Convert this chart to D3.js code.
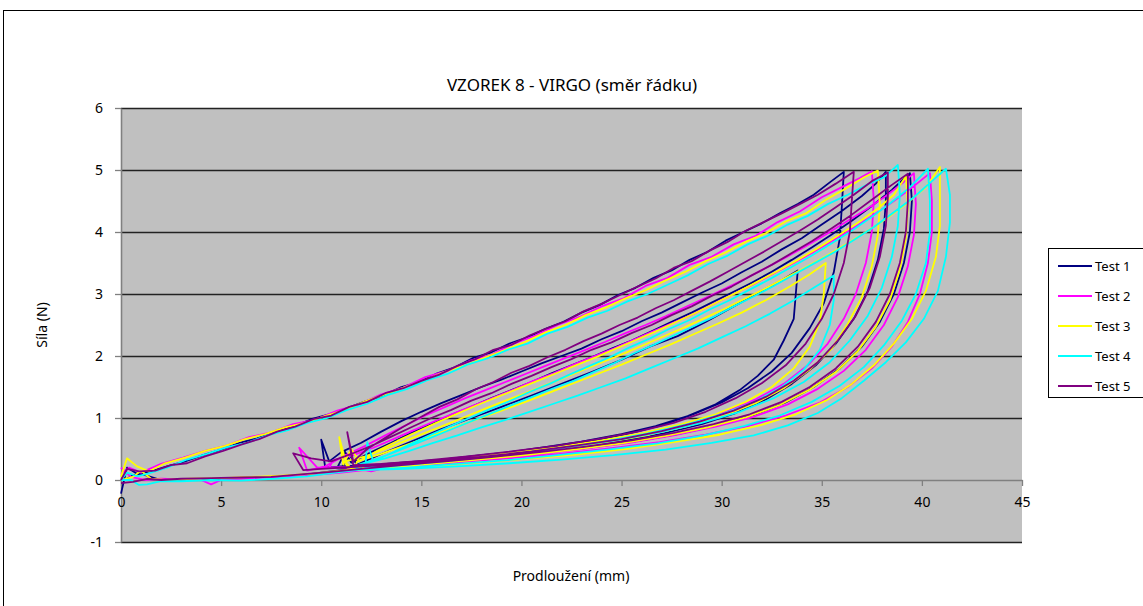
<!DOCTYPE html>
<html><head><meta charset="utf-8">
<script src="https://cdn.jsdelivr.net/npm/d3@7"></script>
<style>
html,body{margin:0;padding:0;background:#fff;}
svg{display:block;font-family:"Noto Sans","Open Sans",sans-serif;}
</style></head>
<body><svg id="c" width="1143" height="606"></svg>
<script>
const chartTitle = "VZOREK 8 - VIRGO (směr řádku)";
const xTitle = "Prodloužení (mm)";
const yTitle = "Síla (N)";
const seriesNames = ["Test 1","Test 2","Test 3","Test 4","Test 5"];
const seriesColors = ["#000080","#FF00FF","#FFFF00","#00FFFF","#800080"];
const xTicks = [0,5,10,15,20,25,30,35,40,45];
const yTicks = [-1,0,1,2,3,4,5,6];

const test1 = [[0,-0.22],[0.3,0.2],[0.8,0.1],[1.5,0.14],[2.3,0.22],[3.2,0.3],[4.1,0.4],[5,0.49],[5.9,0.6],[6.8,0.67],[7.7,0.78],[8.6,0.86],[9.5,0.98],[10.4,1.06],[11.3,1.16],[12.2,1.27],[13.1,1.36],[14,1.5],[14.9,1.58],[15.8,1.72],[16.7,1.82],[17.6,1.97],[18.5,2.06],[19.4,2.2],[20.3,2.3],[21.2,2.44],[22.1,2.55],[23,2.7],[23.9,2.82],[24.8,2.98],[25.7,3.1],[26.6,3.26],[27.5,3.38],[28.4,3.55],[29.3,3.68],[30.2,3.86],[31.1,4.0],[32,4.14],[32.9,4.3],[33.8,4.45],[34.6,4.6],[35.4,4.8],[36.1,4.97],
[36.0,4.4],[35.9,3.9],[35.6,3.35],[35.1,2.85],[34.4,2.45],[33.5,2.05],[32.5,1.75],[31.3,1.48],[30,1.25],[28.5,1.05],[27,0.88],[25.5,0.76],[24,0.66],[22,0.55],[20,0.47],[18,0.4],[16,0.33],[14,0.28],[12.5,0.24],[11,0.22],[10.2,0.2],
[10.0,0.65],[10.4,0.3],[11,0.45],[12,0.6],[13,0.78],[14,0.95],[15,1.1],[16,1.24],[17,1.37],[18,1.5],[19,1.62],[20,1.75],[21,1.88],[22,2.0],[23,2.12],[24,2.27],[25,2.4],[26,2.56],[27,2.7],[28,2.86],[29,3.02],[30,3.17],[31,3.35],[32,3.52],[33,3.72],[34,3.9],[35,4.12],[36,4.34],[37,4.58],[37.7,4.78],[38.2,4.97],
[38.2,4.5],[38.1,4.05],[37.8,3.55],[37.3,3.05],[36.6,2.6],[35.7,2.2],[34.7,1.85],[33.5,1.55],[32.2,1.3],[30.7,1.08],[29,0.9],[27.2,0.76],[25.2,0.64],[23,0.54],[20.8,0.45],[18.5,0.38],[16.2,0.31],[14,0.26],[12,0.22],[10.8,0.2],
[11.2,0.45],[11.5,0.28],[12.5,0.45],[13.5,0.6],[14.5,0.76],[15.5,0.9],[16.5,1.05],[17.5,1.18],[18.5,1.32],[19.5,1.45],[20.5,1.58],[21.5,1.72],[22.5,1.85],[23.5,1.98],[24.5,2.12],[25.5,2.25],[26.5,2.4],[27.5,2.55],[28.5,2.7],[29.5,2.86],[30.5,3.02],[31.5,3.18],[32.5,3.36],[33.5,3.55],[34.5,3.75],[35.5,3.96],[36.5,4.18],[37.5,4.42],[38.5,4.68],[39.4,4.95],
[39.5,4.5],[39.4,4.0],[39.1,3.5],[38.6,3.0],[37.9,2.55],[37,2.15],[35.9,1.8],[34.6,1.5],[33.2,1.25],[31.6,1.05],[29.8,0.88],[27.8,0.74],[25.6,0.62],[23.3,0.52],[21,0.44],[18.6,0.36],[16.3,0.3],[14,0.24],[12,0.2],[11,0.19],
[11.4,0.4],[11.8,0.25],[13,0.42],[14.5,0.62],[16,0.82],[17.5,1.0],[19,1.18],[20.5,1.36],[22,1.55],[23.5,1.74],[25,1.94],[26.4,2.15],[27.8,2.32],[29.2,2.55],[30.6,2.8],[32,3.05],[33,3.22],[33.8,3.38],
[33.6,2.6],[33.1,2.25],[32.6,1.94],[31.8,1.68],[30.9,1.45],[29.7,1.22],[28.3,1.03],[26.7,0.87],[25,0.74],[23,0.62],[21,0.52],[19,0.43],[17,0.35],[15,0.28],[13,0.22],[11,0.16],[9.5,0.1],[8,0.06],[6.5,0.04],[5,0.02],[3.5,0.01],[2,0.0],[1,0.1],[0.6,0.08],[0.3,0.02]];

const test2 = [[0,0.1],[0.4,0.2],[1,0.12],[2,0.26],[3.1,0.36],[4.2,0.47],[5.3,0.56],[6.4,0.69],[7.5,0.77],[8.6,0.9],[9.7,0.97],[10.8,1.12],[11.9,1.22],[13,1.38],[14.1,1.49],[15.2,1.66],[16.3,1.76],[17.4,1.92],[18.5,2.02],[19.6,2.2],[20.7,2.33],[21.8,2.5],[22.9,2.63],[24,2.8],[25.1,2.93],[26.2,3.13],[27.3,3.26],[28.4,3.47],[29.5,3.6],[30.6,3.8],[31.7,3.94],[32.8,4.16],[33.9,4.33],[35,4.56],[36.1,4.74],[36.9,4.87],[37.5,4.98],
[37.6,4.5],[37.5,4.0],[37.2,3.5],[36.7,3.0],[36.1,2.6],[35.3,2.2],[34.3,1.85],[33.1,1.55],[31.7,1.3],[30.2,1.1],[28.5,0.92],[26.6,0.77],[24.6,0.65],[22.4,0.54],[20.2,0.45],[18,0.37],[15.8,0.3],[13.6,0.25],[11.5,0.21],[9.8,0.2],
[8.9,0.52],[9.3,0.15],[10.2,0.22],[11.2,0.4],[12.2,0.55],[13.2,0.72],[14.2,0.88],[15.2,1.04],[16.2,1.18],[17.2,1.32],[18.2,1.45],[19.2,1.58],[20.2,1.71],[21.2,1.84],[22.2,1.97],[23.2,2.1],[24.2,2.23],[25.2,2.37],[26.2,2.5],[27.2,2.64],[28.2,2.79],[29.2,2.94],[30.2,3.09],[31.2,3.25],[32.2,3.42],[33.2,3.59],[34.2,3.77],[35.2,3.96],[36.2,4.16],[37.2,4.36],[38.2,4.58],[39,4.78],[39.6,4.95],
[39.7,4.45],[39.6,3.95],[39.3,3.45],[38.8,2.95],[38.1,2.5],[37.2,2.1],[36.1,1.76],[34.8,1.47],[33.3,1.22],[31.6,1.02],[29.7,0.86],[27.6,0.72],[25.4,0.6],[23,0.5],[20.6,0.41],[18.2,0.34],[15.8,0.28],[13.5,0.22],[12.5,0.14],[11.5,0.2],[10.4,0.2],
[10.6,0.32],[11.6,0.4],[12.6,0.52],[13.6,0.66],[14.6,0.8],[15.6,0.94],[16.6,1.07],[17.6,1.2],[18.6,1.33],[19.6,1.46],[20.6,1.6],[21.6,1.72],[22.6,1.86],[23.6,1.99],[24.6,2.12],[25.6,2.26],[26.6,2.4],[27.6,2.54],[28.6,2.68],[29.6,2.84],[30.6,3.0],[31.6,3.16],[32.6,3.33],[33.6,3.5],[34.6,3.68],[35.6,3.87],[36.6,4.07],[37.6,4.28],[38.6,4.5],[39.6,4.74],[40.4,4.95],
[40.5,4.5],[40.5,4.0],[40.3,3.5],[39.9,3.0],[39.3,2.55],[38.5,2.15],[37.5,1.8],[36.3,1.5],[34.9,1.25],[33.2,1.04],[31.3,0.87],[29.2,0.73],[26.9,0.61],[24.4,0.51],[21.9,0.42],[19.4,0.35],[16.9,0.28],[14.5,0.2],[12.5,0.17],[11,0.12],[9.5,0.08],[8,0.05],[6.5,0.03],[5,0.0],[4.5,-0.07],[4,0.0],[3,0.01],[2,0.02],[1.2,0.0],[0.5,0.05],[0,0.2]];

const test3 = [[0,0.05],[0.3,0.35],[0.8,0.22],[1.4,0.14],[2.2,0.27],[3.2,0.36],[4.2,0.47],[5.2,0.55],[6.2,0.66],[7.2,0.74],[8.2,0.85],[9.2,0.92],[10.2,1.03],[11.2,1.13],[12.2,1.27],[13.2,1.38],[14.2,1.5],[15.2,1.61],[16.2,1.75],[17.2,1.85],[18.2,1.98],[19.2,2.1],[20.2,2.23],[21.2,2.38],[22.2,2.5],[23.2,2.66],[24.2,2.78],[25.2,2.93],[26.2,3.06],[27.2,3.22],[28.2,3.36],[29.2,3.53],[30.2,3.67],[31.2,3.84],[32.2,3.98],[33.2,4.17],[34.2,4.3],[35.2,4.52],[36.2,4.7],[37.1,4.88],[37.8,4.99],
[37.9,4.45],[37.8,3.95],[37.5,3.45],[37,2.95],[36.3,2.52],[35.5,2.12],[34.4,1.78],[33.1,1.48],[31.7,1.24],[30.1,1.04],[28.3,0.87],[26.4,0.73],[24.3,0.61],[22.1,0.5],[19.8,0.41],[17.5,0.33],[15.2,0.27],[13,0.22],[11.3,0.2],
[10.9,0.69],[11.1,0.25],[11.5,0.5],[11.9,0.3],[12.8,0.47],[13.8,0.63],[14.8,0.78],[15.8,0.93],[16.8,1.07],[17.8,1.21],[18.8,1.34],[19.8,1.47],[20.8,1.6],[21.8,1.73],[22.8,1.86],[23.8,1.99],[24.8,2.13],[25.8,2.27],[26.8,2.41],[27.8,2.56],[28.8,2.71],[29.8,2.87],[30.8,3.03],[31.8,3.2],[32.8,3.37],[33.8,3.55],[34.8,3.74],[35.8,3.94],[36.8,4.15],[37.8,4.38],[38.6,4.6],[39.2,4.9],
[39.3,4.4],[39.2,3.9],[38.9,3.4],[38.4,2.9],[37.7,2.47],[36.8,2.08],[35.7,1.74],[34.4,1.46],[32.9,1.21],[31.2,1.01],[29.3,0.85],[27.2,0.71],[25,0.59],[22.6,0.49],[20.2,0.4],[17.8,0.33],[15.4,0.26],[13.2,0.2],[11.5,0.18],
[11.2,0.3],[12.2,0.38],[13.2,0.5],[14.2,0.63],[15.2,0.76],[16.2,0.89],[17.2,1.02],[18.2,1.15],[19.2,1.28],[20.2,1.4],[21.2,1.53],[22.2,1.66],[23.2,1.79],[24.2,1.92],[25.2,2.05],[26.2,2.19],[27.2,2.33],[28.2,2.47],[29.2,2.62],[30.2,2.77],[31.2,2.93],[32.2,3.09],[33.2,3.26],[34.2,3.43],[35.2,3.61],[36.2,3.8],[37.2,4.0],[38.2,4.21],[39.2,4.45],[40.2,4.72],[40.9,5.05],
[40.9,4.6],[40.9,4.1],[40.7,3.6],[40.2,3.05],[39.5,2.6],[38.6,2.2],[37.6,1.85],[36.5,1.55],[35.2,1.28],[33.7,1.06],[31.9,0.88],[29.9,0.73],[27.6,0.61],[25.2,0.5],[22.7,0.41],[20.2,0.34],[17.8,0.28],[15.4,0.22],[13.2,0.18],[11.6,0.16],
[11.8,0.3],[13,0.42],[14.2,0.56],[15.4,0.7],[16.6,0.84],[17.8,0.98],[19,1.12],[20.2,1.26],[21.4,1.41],[22.6,1.56],[23.8,1.71],[25,1.86],[26.2,2.02],[27.4,2.18],[28.6,2.35],[29.8,2.52],[31,2.7],[32.2,2.9],[33.4,3.12],[34.4,3.32],[35.2,3.5],
[35.1,3.0],[34.9,2.55],[34.4,2.15],[33.6,1.8],[32.5,1.5],[31.2,1.26],[29.7,1.06],[28,0.9],[26.1,0.76],[24,0.64],[21.8,0.53],[19.5,0.44],[17.2,0.36],[15,0.29],[13,0.23],[11.2,0.16],[9.5,0.1],[8,0.07],[6.5,0.05],[5,0.03],[3.5,0.02],[2.2,0.0],[1.5,0.02],[1.0,0.15],[0.6,0.05],[0,0.0]];

const test4 = [[0,0.0],[0.3,0.12],[0.8,0.06],[1.3,0.1],[2.3,0.2],[3.3,0.33],[4.3,0.42],[5.3,0.53],[6.3,0.6],[7.3,0.72],[8.3,0.8],[9.3,0.92],[10.3,1.0],[11.3,1.13],[12.3,1.23],[13.3,1.37],[14.3,1.47],[15.3,1.61],[16.3,1.71],[17.3,1.86],[18.3,1.96],[19.3,2.1],[20.3,2.2],[21.3,2.36],[22.3,2.47],[23.3,2.62],[24.3,2.73],[25.3,2.88],[26.3,3.0],[27.3,3.15],[28.3,3.3],[29.3,3.48],[30.3,3.62],[31.3,3.8],[32.3,3.94],[33.3,4.12],[34.3,4.26],[35.3,4.45],[36.3,4.6],[37.3,4.77],[38.1,4.88],[38.8,5.08],
[38.9,4.6],[38.8,4.1],[38.5,3.6],[38,3.1],[37.3,2.65],[36.4,2.25],[35.4,1.9],[34.1,1.58],[32.6,1.32],[30.9,1.1],[29,0.92],[26.9,0.77],[24.7,0.64],[22.3,0.53],[19.9,0.43],[17.5,0.35],[15.1,0.28],[13,0.23],[12.2,0.2],
[12.3,0.61],[12.6,0.3],[13.4,0.42],[14.4,0.57],[15.4,0.72],[16.4,0.86],[17.4,1.0],[18.4,1.14],[19.4,1.27],[20.4,1.42],[21.4,1.55],[22.4,1.7],[23.4,1.84],[24.4,1.98],[25.4,2.14],[26.4,2.28],[27.4,2.44],[28.4,2.58],[29.4,2.75],[30.4,2.9],[31.4,3.07],[32.4,3.24],[33.4,3.42],[34.4,3.6],[35.4,3.8],[36.4,4.0],[37.4,4.22],[38.4,4.46],[39.4,4.72],[40.3,5.02],
[40.4,4.5],[40.4,4.0],[40.2,3.5],[39.7,3.0],[39.0,2.57],[38.1,2.17],[37.1,1.82],[35.9,1.52],[34.5,1.26],[32.9,1.04],[31.1,0.87],[29.1,0.72],[26.8,0.59],[24.3,0.49],[21.8,0.4],[19.3,0.32],[16.8,0.26],[14.3,0.2],[12,0.16],
[11.6,0.22],[12.6,0.32],[13.6,0.44],[14.6,0.57],[15.6,0.7],[16.6,0.83],[17.6,0.96],[18.6,1.09],[19.6,1.22],[20.6,1.35],[21.6,1.48],[22.6,1.6],[23.6,1.74],[24.6,1.88],[25.6,2.04],[26.6,2.18],[27.6,2.33],[28.6,2.48],[29.6,2.63],[30.6,2.8],[31.6,2.96],[32.6,3.13],[33.6,3.31],[34.6,3.49],[35.6,3.67],[36.6,3.87],[37.6,4.08],[38.6,4.32],[39.6,4.56],[40.5,4.82],[41.2,5.02],
[41.4,4.6],[41.4,4.15],[41.2,3.6],[40.8,3.05],[40.1,2.6],[39.2,2.22],[38.2,1.9],[37.1,1.6],[36,1.32],[34.8,1.08],[33.3,0.88],[31.6,0.72],[29.5,0.6],[27.2,0.49],[24.6,0.4],[22,0.33],[19.4,0.27],[16.8,0.22],[14.2,0.18],[12,0.16],
[12,0.25],[13.2,0.35],[14.4,0.47],[15.6,0.6],[16.8,0.72],[18,0.85],[19.2,0.97],[20.4,1.1],[21.6,1.23],[22.8,1.36],[24,1.5],[25.2,1.64],[26.4,1.8],[27.6,1.96],[28.8,2.12],[30,2.3],[31.2,2.48],[32.4,2.68],[33.6,2.9],[34.6,3.1],[35.6,3.3],
[35.6,2.9],[35.4,2.5],[34.9,2.1],[34.1,1.78],[33,1.5],[31.7,1.27],[30.1,1.07],[28.3,0.9],[26.3,0.75],[24.1,0.62],[21.8,0.5],[19.4,0.41],[17,0.33],[14.8,0.26],[12.8,0.2],[11,0.13],[9.3,0.06],[7.6,0.02],[6,-0.01],[4.5,0.0],[3,-0.02],[2,-0.02],[1.3,-0.07],[0.9,-0.08],[0.5,0.0],[0,0.0]];

const test5 = [[0,0.0],[0.3,0.18],[0.9,0.14],[1.7,0.15],[2.5,0.24],[3.3,0.27],[4.2,0.38],[5.1,0.47],[6,0.57],[6.9,0.66],[7.8,0.78],[8.7,0.86],[9.6,0.98],[10.5,1.04],[11.4,1.18],[12.3,1.26],[13.2,1.4],[14.1,1.48],[15,1.6],[15.9,1.7],[16.8,1.84],[17.7,1.95],[18.6,2.1],[19.5,2.18],[20.4,2.33],[21.3,2.45],[22.2,2.56],[23.1,2.72],[24,2.84],[24.9,2.98],[25.8,3.12],[26.7,3.25],[27.6,3.42],[28.5,3.53],[29.4,3.7],[30.3,3.84],[31.2,4.02],[32.1,4.16],[33,4.3],[33.9,4.45],[34.8,4.6],[35.7,4.78],[36.6,4.97],
[36.5,4.5],[36.4,4.0],[36.1,3.5],[35.6,3.0],[35,2.6],[34.2,2.2],[33.2,1.85],[32,1.56],[30.7,1.32],[29.2,1.1],[27.6,0.92],[25.8,0.78],[23.8,0.66],[21.7,0.55],[19.5,0.46],[17.3,0.38],[15,0.31],[13,0.26],[11.6,0.24],
[11.3,0.77],[11.6,0.3],[12.3,0.5],[13.2,0.68],[14.1,0.86],[15,1.02],[15.9,1.18],[16.8,1.3],[17.7,1.46],[18.6,1.58],[19.5,1.73],[20.4,1.84],[21.3,1.98],[22.2,2.1],[23.1,2.24],[24,2.36],[24.9,2.5],[25.8,2.62],[26.7,2.77],[27.6,2.9],[28.5,3.05],[29.4,3.2],[30.3,3.36],[31.2,3.52],[32.1,3.68],[33,3.85],[33.9,4.02],[34.8,4.2],[35.7,4.4],[36.6,4.6],[37.5,4.82],[38.3,4.96],
[38.3,4.55],[38.2,4.1],[37.9,3.6],[37.4,3.1],[36.7,2.65],[35.8,2.25],[34.8,1.9],[33.6,1.6],[32.2,1.34],[30.6,1.12],[28.9,0.94],[27,0.79],[25,0.66],[22.8,0.56],[20.5,0.46],[18.2,0.38],[15.9,0.31],[13.6,0.25],[11.5,0.21],[10,0.18],
[9.1,0.16],[8.6,0.43],[9.5,0.35],[10.5,0.3],[11.5,0.42],[12.5,0.55],[13.5,0.7],[14.5,0.85],[15.5,1.0],[16.5,1.13],[17.5,1.28],[18.5,1.4],[19.5,1.55],[20.5,1.68],[21.5,1.82],[22.5,1.95],[23.5,2.1],[24.5,2.22],[25.5,2.37],[26.5,2.5],[27.5,2.66],[28.5,2.8],[29.5,2.97],[30.5,3.12],[31.5,3.3],[32.5,3.47],[33.5,3.66],[34.5,3.85],[35.5,4.06],[36.5,4.28],[37.5,4.52],[38.5,4.76],[39.3,4.94],
[39.3,4.5],[39.2,4.0],[38.9,3.5],[38.4,3.0],[37.7,2.55],[36.8,2.15],[35.7,1.8],[34.4,1.5],[33,1.26],[31.4,1.06],[29.6,0.9],[27.6,0.76],[25.5,0.64],[23.2,0.54],[20.9,0.45],[18.5,0.37],[16.2,0.3],[14,0.24],[12,0.18],[10.5,0.13],[9,0.09],[7.5,0.05],[6,0.04],[4.5,0.03],[3,0.02],[2,0.0],[1.3,0.02],[0.6,-0.03],[0,-0.05]];

const seriesData = [test1, test2, test3, test4, test5];

const svg = d3.select("#c");
const plot = {left:121, right:1022, top:108, bottom:542};
const x = d3.scaleLinear().domain([0,45]).range([plot.left, plot.right]);
const y = d3.scaleLinear().domain([-1,6]).range([plot.bottom, plot.top]);

// outer border
svg.append("rect").attr("x",3.5).attr("y",10.5).attr("width",1160).attr("height",620)
  .attr("fill","none").attr("stroke","#000").attr("stroke-width",1);

// plot area
svg.append("rect").attr("x",plot.left).attr("y",plot.top)
  .attr("width",plot.right-plot.left).attr("height",plot.bottom-plot.top).attr("fill","#C0C0C0");

// grid lines
svg.append("g").selectAll("line").data(yTicks.filter(v=>v!==0)).join("line")
  .attr("x1",plot.left).attr("x2",plot.right)
  .attr("y1",d=>Math.round(y(d))+0.5).attr("y2",d=>Math.round(y(d))+0.5)
  .attr("stroke","#222").attr("stroke-width",1.3);

// y axis
const yAxis = svg.append("g").attr("transform",`translate(${plot.left},0)`)
  .call(d3.axisLeft(y).tickValues(yTicks).tickFormat(d=>String(d)).tickSize(6).tickSizeOuter(0).tickPadding(12));
// x axis at y=0
const xAxis = svg.append("g").attr("transform",`translate(0,${y(0)})`)
  .call(d3.axisBottom(x).tickValues(xTicks).tickFormat(d=>String(d)).tickSize(6).tickSizeOuter(0).tickPadding(11));
[yAxis,xAxis].forEach(g=>{
  g.select(".domain").attr("stroke","#808080").attr("stroke-width",1.6);
  g.selectAll(".tick line").attr("stroke","#808080").attr("stroke-width",1.3);
  g.selectAll(".tick text").attr("fill","#000").attr("font-size",14)
    .attr("font-family","'Noto Sans','Open Sans',sans-serif");
});

// series lines
const lineGen = d3.line().x(d=>x(d[0])).y(d=>y(d[1]));
svg.append("g").selectAll("path").data(seriesData).join("path")
  .attr("d",lineGen).attr("fill","none")
  .attr("stroke",(d,i)=>seriesColors[i]).attr("stroke-width",1.8)
  .attr("stroke-linejoin","round");

// titles
svg.append("text").attr("x",572).attr("y",91).attr("text-anchor","middle")
  .attr("font-size",17).attr("fill","#000").text(chartTitle);
svg.append("text").attr("x",571).attr("y",581).attr("text-anchor","middle")
  .attr("font-size",14).attr("fill","#000").text(xTitle);
svg.append("text").attr("transform","translate(47,325) rotate(-90)").attr("text-anchor","middle")
  .attr("font-size",14).attr("fill","#000").text(yTitle);

// legend
const lg = svg.append("g");
lg.append("rect").attr("x",1048.5).attr("y",248.5).attr("width",110).attr("height",149)
  .attr("fill","#fff").attr("stroke","#000").attr("stroke-width",1);
const items = lg.selectAll("g.item").data(seriesNames).join("g").attr("class","item")
  .attr("transform",(d,i)=>`translate(0,${266+i*30})`);
items.append("line").attr("x1",1058).attr("x2",1092).attr("y1",0).attr("y2",0)
  .attr("stroke",(d,i)=>seriesColors[i]).attr("stroke-width",1.8);
items.append("text").attr("x",1095).attr("y",5).attr("font-size",13).attr("fill","#000").text(d=>d);
</script></body></html>
